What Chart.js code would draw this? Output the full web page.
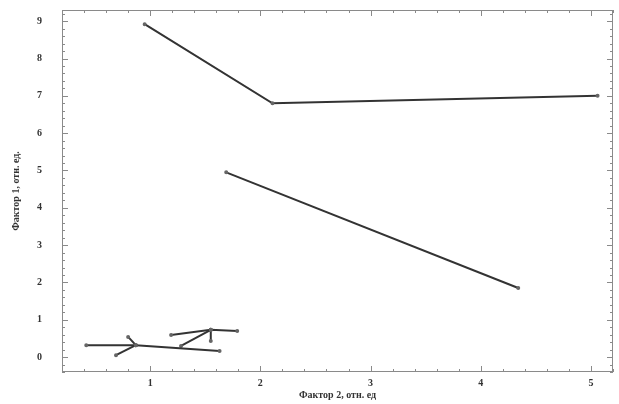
<!DOCTYPE html>
<html>
<head>
<meta charset="utf-8">
<script src="https://cdn.jsdelivr.net/npm/chart.js@4"></script>
<style>
  html, body { margin: 0; padding: 0; background: #fff; }
  #wrap { width: 619px; height: 404px; }
</style>
</head>
<body>
<div id="wrap"><canvas id="chart" width="619" height="404"></canvas></div>
<script>
// factor 2 (x) / factor 1 (y) coordinates of each trajectory
const topX = [0.95, 2.11, 5.06];
const topY = [8.92, 6.80, 7.00];
const midX = [1.69, 4.34];
const midY = [4.95, 1.85];
const lowX = [0.42, 0.87, 1.63];
const lowY = [0.32, 0.32, 0.16];
const upX = [0.80, 0.87];
const upY = [0.54, 0.32];
const downX = [0.69, 0.87];
const downY = [0.05, 0.32];
const riseX = [1.28, 1.55];
const riseY = [0.30, 0.73];
const ridgeX = [1.19, 1.55, 1.79];
const ridgeY = [0.59, 0.73, 0.70];
const dropX = [1.55, 1.55];
const dropY = [0.73, 0.43];

const xTicks = [1, 2, 3, 4, 5];
const yTicks = [0, 1, 2, 3, 4, 5, 6, 7, 8, 9];

const font = { family: "'Liberation Serif', 'DejaVu Serif', serif", size: 10, weight: "bold" };

function pts(xs, ys) {
    return xs.map((x, i) => ({ x: x, y: ys[i] }));
}

function series(xs, ys) {
    return {
        data: pts(xs, ys),
        showLine: true,
        borderColor: "#333",
        borderWidth: 2,
        pointRadius: 1,
        pointBackgroundColor: "#666",
        pointBorderColor: "#666",
        tension: 0
    };
}

// frame with small inward ticks like the original plot
const frameTicks = {
    id: "frameTicks",
    afterDraw(chart) {
        const ctx = chart.ctx;
        const a = chart.chartArea;
        const xs = chart.scales.x, ys = chart.scales.y;
        ctx.save();
        ctx.strokeStyle = "#8a8a8a";
        ctx.lineWidth = 1;
        ctx.strokeRect(a.left + 0.5, a.top + 0.5, a.right - a.left - 1, a.bottom - a.top - 1);
        ctx.beginPath();
        for (let v = 0.2; v <= 5.2001; v += 0.2) {
            const px = Math.round(xs.getPixelForValue(v)) + 0.5;
            const major = Math.abs(v - Math.round(v)) < 0.01;
            const len = major ? 6 : 3;
            ctx.moveTo(px, a.bottom); ctx.lineTo(px, a.bottom - len);
            ctx.moveTo(px, a.top); ctx.lineTo(px, a.top + len);
        }
        for (let v = -0.4; v <= 9.3; v += 0.2) {
            const py = Math.round(ys.getPixelForValue(v)) + 0.5;
            const major = Math.abs(v - Math.round(v)) < 0.01;
            const len = major ? 6 : 3;
            ctx.moveTo(a.left, py); ctx.lineTo(a.left + len, py);
            ctx.moveTo(a.right, py); ctx.lineTo(a.right - len, py);
        }
        ctx.stroke();
        ctx.restore();
    }
};

new Chart(document.getElementById("chart"), {
    type: "scatter",
    data: {
        datasets: [
            series(topX, topY),
            series(midX, midY),
            series(lowX, lowY),
            series(upX, upY),
            series(downX, downY),
            series(riseX, riseY),
            series(ridgeX, ridgeY),
            series(dropX, dropY)
        ]
    },
    options: {
        responsive: false,
        animation: false,
        layout: { padding: { top: 10, right: -3, left: 0, bottom: 3 } },
        plugins: { legend: { display: false }, tooltip: { enabled: false } },
        scales: {
            x: {
                type: "linear",
                min: 0.2,
                max: 5.2,
                afterBuildTicks: s => { s.ticks = xTicks.map(v => ({ value: v })); },
                afterFit: s => { s.height = 29; s.paddingLeft = 0; s.paddingRight = 0; },
                grid: { display: false },
                border: { display: false },
                ticks: { font: font, color: "#333", padding: -3, maxRotation: 0 },
                title: { display: true, text: "Фактор 2, отн. ед", font: font, color: "#333", padding: { top: 0, bottom: 0 } }
            },
            y: {
                type: "linear",
                min: -0.4,
                max: 9.3,
                afterBuildTicks: s => { s.ticks = yTicks.map(v => ({ value: v })); },
                afterFit: s => { s.width = 62; s.paddingTop = 0; s.paddingBottom = 0; },
                grid: { display: false },
                border: { display: false },
                ticks: { font: font, color: "#333", padding: 12 },
                title: { display: true, text: "Фактор 1, отн. ед.", font: font, color: "#333", padding: { top: 10, bottom: 0 } }
            }
        }
    },
    plugins: [frameTicks]
});
</script>
</body>
</html>
